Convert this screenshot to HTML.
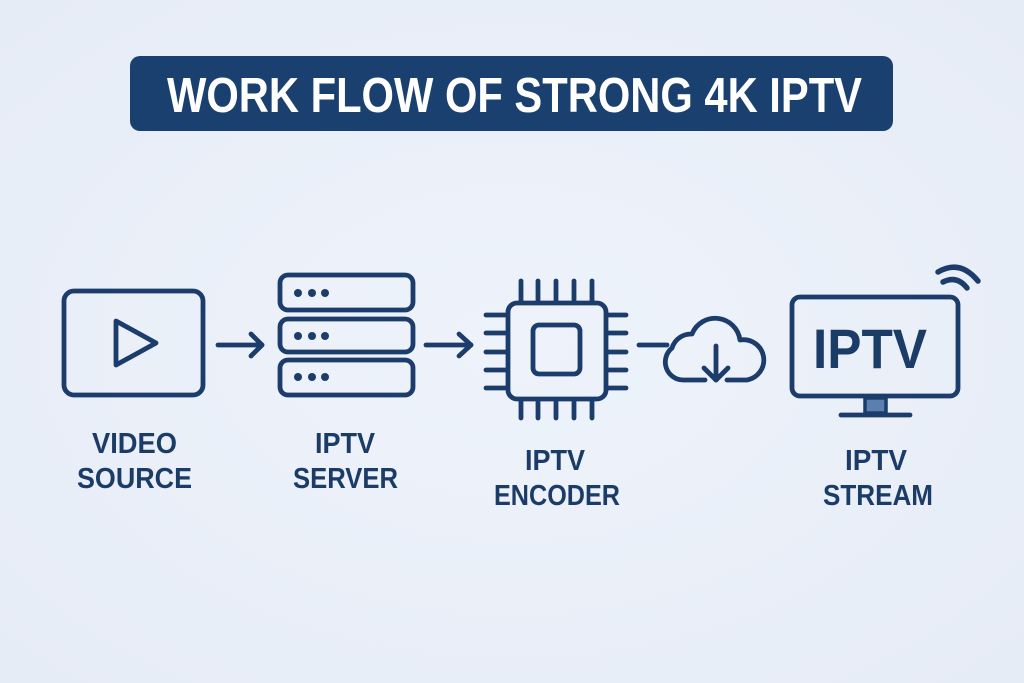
<!DOCTYPE html>
<html>
<head>
<meta charset="utf-8">
<style>
  html, body { margin: 0; padding: 0; }
  body { width: 1024px; height: 683px; overflow: hidden; background: #e9eff8; }
  svg { display: block; }
  .lbl { font-family: "Liberation Sans", Arial, sans-serif; font-weight: bold; font-size: 29px; fill: #1c3c68; }
</style>
</head>
<body>
<svg width="1024" height="683" viewBox="0 0 1024 683" xmlns="http://www.w3.org/2000/svg">
  <defs>
    <radialGradient id="bg" cx="50%" cy="50%" r="70%">
      <stop offset="0%" stop-color="#eef3fb"/>
      <stop offset="100%" stop-color="#e6ecf6"/>
    </radialGradient>
  </defs>
  <rect x="0" y="0" width="1024" height="683" fill="url(#bg)"/>

  <!-- Title -->
  <rect x="130" y="56" width="763" height="75" rx="10" fill="#1a406f"/>
  <text x="514.5" y="112" text-anchor="middle" textLength="695" lengthAdjust="spacingAndGlyphs"
        font-family="Liberation Sans, Arial, sans-serif" font-weight="bold" font-size="49" fill="#ffffff">WORK FLOW OF STRONG 4K IPTV</text>

  <g fill="none" stroke="#1c3d6b" stroke-width="4.8" stroke-linecap="round" stroke-linejoin="round">
    <!-- Video source -->
    <rect x="64" y="291" width="139" height="104" rx="10"/>
    <path d="M116 321 L116 365 L156 343 Z"/>

    <!-- Arrow 1 -->
    <path d="M218 345 L262 345"/>
    <path d="M251 334 L262 345 L251 356"/>

    <!-- Server -->
    <rect x="280" y="275" width="133" height="35" rx="8"/>
    <rect x="280" y="319" width="133" height="33" rx="8"/>
    <rect x="280" y="360" width="133" height="35" rx="8"/>

    <!-- Arrow 2 -->
    <path d="M426 345 L471 345"/>
    <path d="M459 334 L471 345 L459 356"/>

    <!-- Chip -->
    <rect x="508" y="303" width="98" height="96" rx="9"/>
    <rect x="533" y="325" width="47" height="49" rx="6"/>
    <path d="M521 281 L521 302 M538 281 L538 302 M556 281 L556 302 M574 281 L574 302 M592 281 L592 302"/>
    <path d="M521 400 L521 418 M538 400 L538 418 M556 400 L556 418 M574 400 L574 418 M592 400 L592 418"/>
    <path d="M486 315 L507 315 M486 333 L507 333 M486 352 L507 352 M486 370 L507 370 M486 388 L507 388"/>
    <path d="M607 315 L626 315 M607 333 L626 333 M607 352 L626 352 M607 370 L626 370 M607 388 L626 388"/>

    <!-- Connector to cloud -->
    <path d="M639 345 L667 345"/>

    <!-- Cloud -->
    <path d="M705 380 L683 380 A18 18 0 0 1 672 348 A20 20 0 0 1 692 334 A25 25 0 0 1 740 340 A20 20 0 0 1 747 380 L727 380"/>
    <path d="M716 346 L716 380"/>
    <path d="M704 368 L716 380 L728 368"/>

    <!-- TV -->
    <rect x="792" y="297" width="166" height="99" rx="8"/>
    <path d="M841 415 L910 415"/>
  </g>
  <!-- wifi -->
  <g fill="none" stroke="#1c3d6b" stroke-width="5.5" stroke-linecap="round">
    <path d="M938 272 Q960 259 978 281"/>
    <path d="M943 282 Q957 275 967 288"/>
  </g>

  <!-- server dots -->
  <g fill="#1c3d6b">
    <circle cx="298" cy="293" r="4"/><circle cx="312" cy="293" r="4"/><circle cx="325" cy="293" r="4"/>
    <circle cx="298" cy="336" r="4"/><circle cx="312" cy="336" r="4"/><circle cx="325" cy="336" r="4"/>
    <circle cx="298" cy="377" r="4"/><circle cx="312" cy="377" r="4"/><circle cx="325" cy="377" r="4"/>
  </g>

  <!-- TV neck -->
  <rect x="865" y="398" width="21" height="15" fill="#5b80b0" stroke="#1c3d6b" stroke-width="3.5"/>

  <!-- TV text -->
  <text x="870" y="368" text-anchor="middle" textLength="114" lengthAdjust="spacingAndGlyphs"
        font-family="Liberation Sans, Arial, sans-serif" font-weight="bold" font-size="56" fill="#1c3c68">IPTV</text>

  <!-- Labels -->
  <text class="lbl" x="134.5" y="453" text-anchor="middle" textLength="85" lengthAdjust="spacingAndGlyphs">VIDEO</text>
  <text class="lbl" x="134.5" y="488" text-anchor="middle" textLength="115" lengthAdjust="spacingAndGlyphs">SOURCE</text>

  <text class="lbl" x="345" y="453" text-anchor="middle" textLength="60" lengthAdjust="spacingAndGlyphs">IPTV</text>
  <text class="lbl" x="345.5" y="488" text-anchor="middle" textLength="105" lengthAdjust="spacingAndGlyphs">SERVER</text>

  <text class="lbl" x="555" y="470" text-anchor="middle" textLength="60" lengthAdjust="spacingAndGlyphs">IPTV</text>
  <text class="lbl" x="557" y="505" text-anchor="middle" textLength="126" lengthAdjust="spacingAndGlyphs">ENCODER</text>

  <text class="lbl" x="876" y="470" text-anchor="middle" textLength="62" lengthAdjust="spacingAndGlyphs">IPTV</text>
  <text class="lbl" x="878" y="505" text-anchor="middle" textLength="110" lengthAdjust="spacingAndGlyphs">STREAM</text>
</svg>
</body>
</html>
